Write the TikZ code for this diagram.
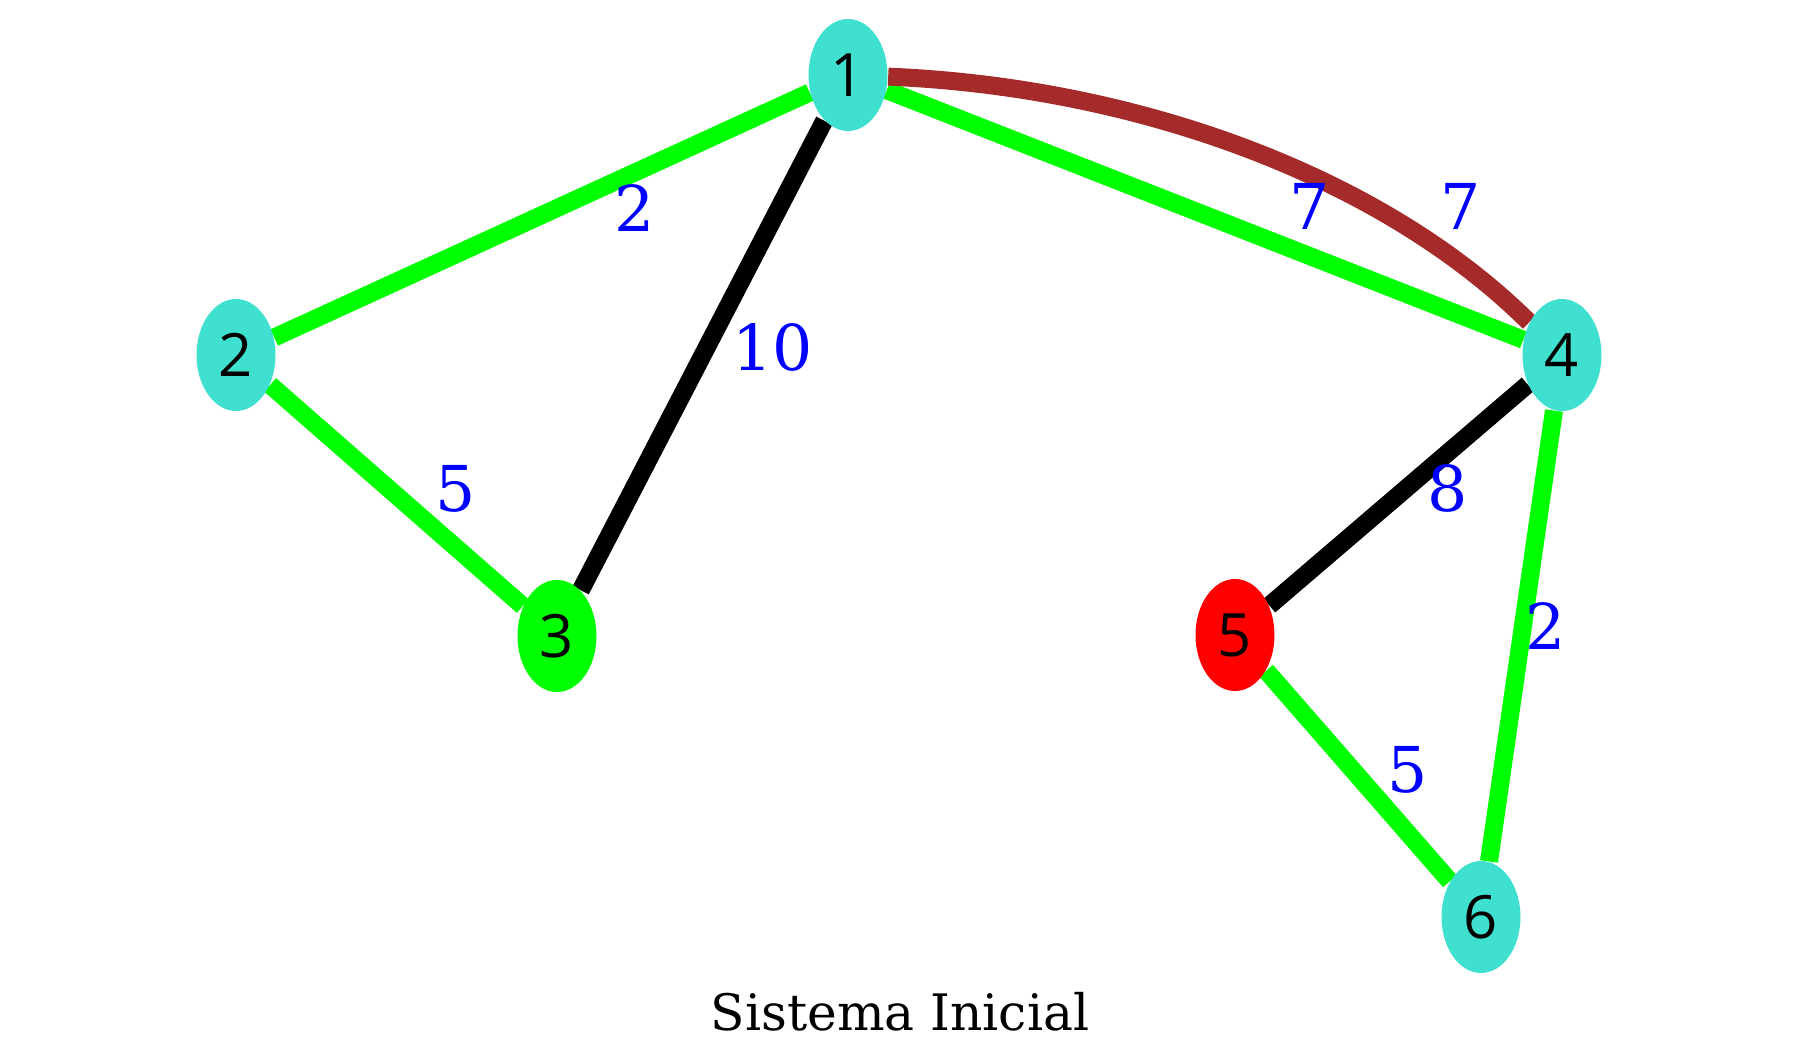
\documentclass[tikz,border=0pt]{standalone}
\usepackage{fontspec}
\setmainfont{DejaVu Serif}
\newfontfamily\nodefont{Open Sans}
\usetikzlibrary{shapes.geometric,backgrounds}

\definecolor{turq}{RGB}{64,224,208}
\definecolor{lime}{RGB}{0,255,0}
\definecolor{brownish}{RGB}{165,42,42}

\tikzset{
  vertex/.style={ellipse, minimum width=0.79cm, minimum height=1.12cm, inner sep=0pt,
    font=\nodefont\fontsize{17}{20}\selectfont},
  weight/.style={text=blue, inner sep=0pt, font=\fontsize{18}{20}\selectfont},
  edge/.style={line width=0.18cm}
}

\begin{document}
\begin{tikzpicture}
\useasboundingbox (0,0) rectangle (17.98,10.56);

% Vertices
\node[vertex, fill=turq] (n1) at (8.48,9.81) {1};
\node[vertex, fill=turq] (n2) at (2.36,7.01) {2};
\node[vertex, fill=lime] (n3) at (5.57,4.20) {3};
\node[vertex, fill=turq] (n4) at (15.62,7.01) {4};
\node[vertex, fill=red] (n5) at (12.35,4.21) {5};
\node[vertex, fill=turq] (n6) at (14.81,1.39) {6};

% Edges
\begin{scope}[on background layer]
\draw[edge, lime] (n1) -- (n2);
\draw[edge, lime] (n2) -- (n3);
\draw[edge, black] (n1) -- (n3);
\draw[edge, lime] (n1) -- (n4);
\draw[edge, brownish] (n1) .. controls (11.40,9.69) and (13.84,8.78) .. (n4);
\draw[edge, black] (n4) -- (n5);
\draw[edge, lime] (n4) -- (n6);
\draw[edge, lime] (n5) -- (n6);
\end{scope}

% Weights
\node[weight] (w12) at (6.35,8.48) {2};
\node[weight] (w13) at (7.73,7.09) {10};
\node[weight] (w23) at (4.56,5.67) {5};
\node[weight] (w14) at (13.10,8.50) {7};
\node[weight] (w14b) at (14.61,8.50) {7};
\node[weight] (w45) at (14.48,5.68) {8};
\node[weight] (w46) at (15.46,4.30) {2};
\node[weight] (w56) at (14.08,2.86) {5};

% Title
\node[font=\fontsize{14.3}{18}\selectfont] (title) at (9.00,0.44) {Sistema Inicial};
\end{tikzpicture}
\end{document}
